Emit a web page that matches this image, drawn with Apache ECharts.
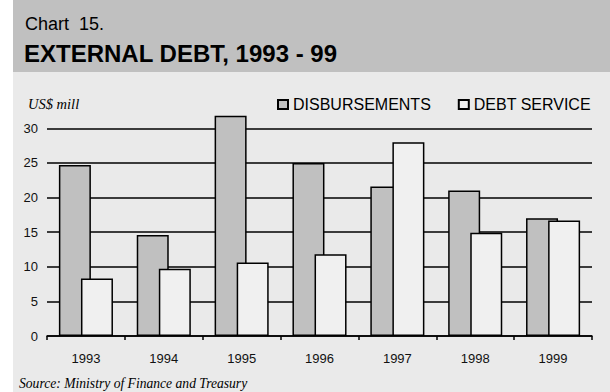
<!DOCTYPE html>
<html>
<head>
<meta charset="utf-8">
<script src="https://cdn.jsdelivr.net/npm/echarts@6/dist/echarts.min.js"></script>
<style>
html,body{margin:0;padding:0;background:#fff;}
#chart{width:610px;height:392px;}
</style>
</head>
<body>
<div id="chart"></div>
<script>
var years = ['1993', '1994', '1995', '1996', '1997', '1998', '1999'];
var disbursements = [24.7, 14.6, 31.8, 25.0, 21.6, 21.0, 17.0];
var debtService = [8.3, 9.7, 10.6, 11.8, 28.0, 14.9, 16.7];
var seriesNames = ['DISBURSEMENTS', 'DEBT SERVICE'];
var chartLabel = 'Chart  15.';
var chartTitle = 'EXTERNAL DEBT, 1993 - 99';
var unitLabel = 'US$ mill';
var sourceLabel = 'Source: Ministry of Finance and Treasury';

var chart = echarts.init(document.getElementById('chart'), null, {renderer: 'svg'});
var sans = 'Liberation Sans, Arial, sans-serif';
var serif = 'Liberation Serif, Times New Roman, serif';
chart.setOption({
  animation: false,
  backgroundColor: '#ffffff',
  graphic: [
    {type: 'rect', z: -10, shape: {x: 13, y: 0, width: 597, height: 72}, style: {fill: '#c0c0c0'}},
    {type: 'rect', z: -10, shape: {x: 13, y: 72, width: 597, height: 320}, style: {fill: '#eaeaea'}},
    {type: 'text', x: 25, y: 24, style: {text: chartLabel, font: '18px ' + sans, fill: '#000', verticalAlign: 'middle'}},
    {type: 'text', x: 24, y: 53, style: {text: chartTitle, font: 'bold 24px ' + sans, fill: '#000', verticalAlign: 'middle'}},
    {type: 'text', x: 28, y: 104, style: {text: unitLabel, font: 'italic 14.5px ' + serif, fill: '#000', verticalAlign: 'middle'}},
    {type: 'text', x: 19, y: 383, style: {text: sourceLabel, font: 'italic 13.6px ' + serif, fill: '#000', verticalAlign: 'middle'}}
  ],
  legend: {
    left: 277, top: 96.5, padding: 0,
    itemWidth: 10, itemHeight: 9, itemGap: 27,
    icon: 'rect',
    textStyle: {fontFamily: sans, fontSize: 16, color: '#000'},
    data: seriesNames
  },
  grid: {left: 47, right: 18, top: 128.3, bottom: 56},
  xAxis: {
    type: 'category', data: years,
    axisLine: {lineStyle: {color: '#000', width: 1.5}},
    axisTick: {show: true, length: 4, lineStyle: {color: '#000', width: 1.5}},
    axisLabel: {fontFamily: sans, fontSize: 13, color: '#111', margin: 16}
  },
  yAxis: {
    type: 'value', min: 0, max: 30, interval: 5,
    axisLine: {show: false}, axisTick: {show: false},
    axisLabel: {fontFamily: sans, fontSize: 13, color: '#111', margin: 9},
    splitLine: {lineStyle: {color: '#000', width: 1.5}}
  },
  series: [
    {name: seriesNames[0], type: 'bar', data: disbursements, barWidth: 32, barGap: '-31%', clip: false,
     itemStyle: {color: '#c0c0c0', borderColor: '#000', borderWidth: 1.5}},
    {name: seriesNames[1], type: 'bar', data: debtService, barWidth: 32, barGap: '-31%', clip: false,
     itemStyle: {color: '#f0f0f0', borderColor: '#000', borderWidth: 1.5}}
  ]
});
</script>
</body>
</html>
